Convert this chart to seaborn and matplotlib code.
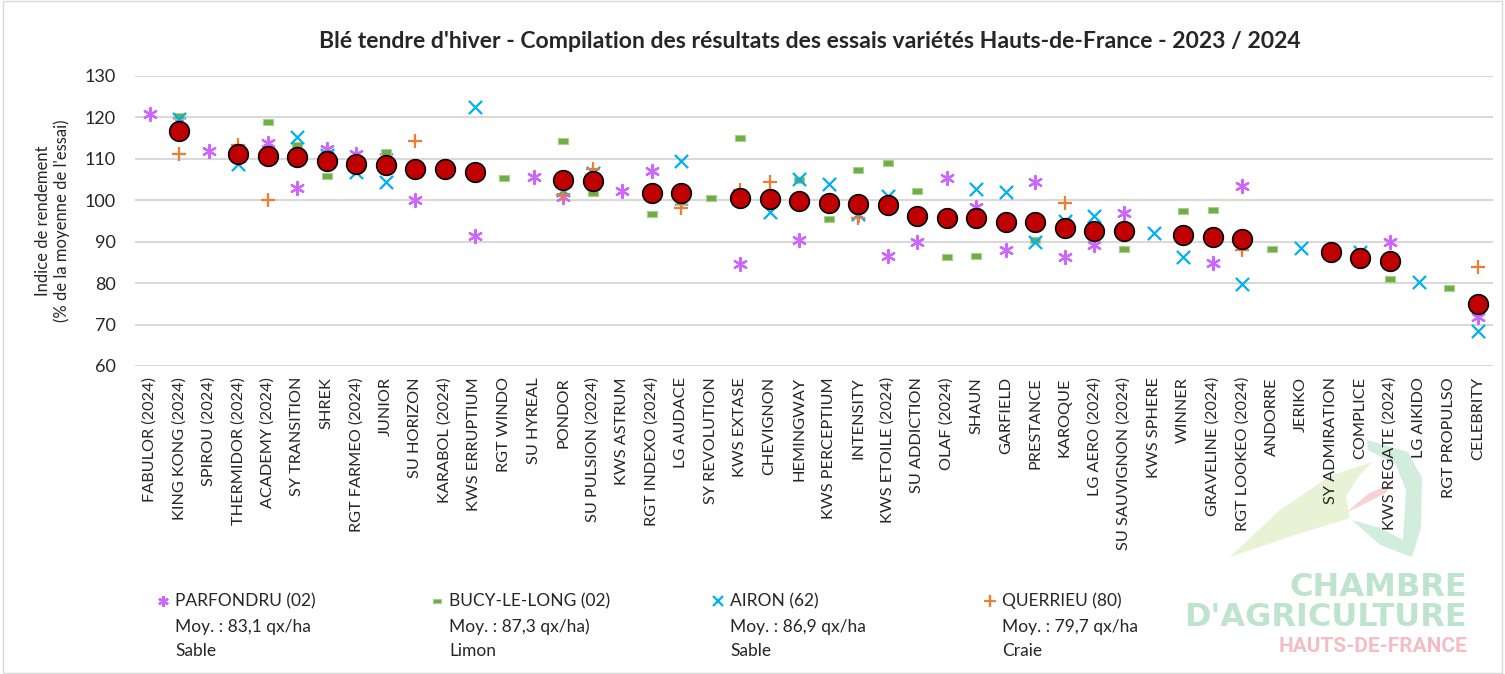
import numpy as np
import pandas as pd
import matplotlib
matplotlib.use("Agg")
import matplotlib.pyplot as plt
from matplotlib.lines import Line2D
from matplotlib.patches import Rectangle, Polygon
import seaborn as sns

varietes = ['FABULOR (2024)', 'KING KONG (2024)', 'SPIROU (2024)', 'THERMIDOR (2024)',
            'ACADEMY (2024)', 'SY TRANSITION', 'SHREK', 'RGT FARMEO (2024)', 'JUNIOR',
            'SU HORIZON', 'KARABOL (2024)', 'KWS ERRUPTIUM', 'RGT WINDO', 'SU HYREAL',
            'PONDOR', 'SU PULSION (2024)', 'KWS ASTRUM', 'RGT INDEXO (2024)', 'LG AUDACE',
            'SY REVOLUTION', 'KWS EXTASE', 'CHEVIGNON', 'HEMINGWAY', 'KWS PERCEPTIUM',
            'INTENSITY', 'KWS ETOILE (2024)', 'SU ADDICTION', 'OLAF (2024)', 'SHAUN',
            'GARFIELD', 'PRESTANCE', 'KAROQUE', 'LG AERO (2024)', 'SU SAUVIGNON (2024)',
            'KWS SPHERE', 'WINNER', 'GRAVELINE (2024)', 'RGT LOOKEO (2024)', 'ANDORRE',
            'JERIKO', 'SY ADMIRATION', 'COMPLICE', 'KWS REGATE (2024)', 'LG AIKIDO',
            'RGT PROPULSO', 'CELEBRITY']

nan = np.nan
parfondru = [120.8, 119.1, 112.0, nan, 113.8, 103.0, 112.4, 111.2, 110.5,
             100.0, 108.3, 91.5, nan, 105.7, 100.7, 103.5, 102.2, 107.1, 99.9,
             nan, 84.6, 99.5, 90.3, 99.0, 96.4, 86.6, 90.0, 105.5, 98.5,
             88.1, 104.3, 86.2, 89.2, 96.9, nan, nan, 84.8, 103.4, nan,
             nan, nan, nan, 89.9, nan, nan, 71.9]
bucy = [nan, 120.3, nan, nan, 119.0, 113.3, 105.8, nan, 111.6,
        nan, nan, nan, 105.5, nan, 114.2, 101.8, nan, 96.6, 99.7,
        100.6, 115.0, nan, 104.9, 95.4, 107.2, 108.9, 102.2, 86.2, 86.5,
        nan, 90.4, nan, nan, 88.2, nan, 97.5, 97.7, nan, 88.2,
        nan, nan, nan, 80.9, nan, 78.9, nan]
airon = [nan, 119.6, nan, 108.8, nan, 115.2, 111.0, 106.8, 104.5,
         nan, nan, 122.5, nan, nan, 102.5, 106.5, nan, nan, 109.5,
         nan, nan, 97.1, 105.1, 103.9, 96.7, 101.0, nan, nan, 102.8,
         101.9, 89.9, 95.0, 96.2, nan, 92.2, 86.2, nan, 79.7, nan,
         88.4, nan, 87.6, nan, 80.3, nan, 68.5]
querrieu = [nan, 111.2, nan, 113.3, 100.0, nan, nan, nan, nan,
            114.3, nan, nan, nan, nan, 101.3, 107.5, nan, nan, 98.1,
            nan, 102.6, 104.3, nan, nan, 95.7, nan, nan, nan, nan,
            nan, nan, 99.4, nan, nan, nan, nan, nan, 88.0, nan,
            nan, nan, 85.2, nan, nan, nan, 84.0]
moyenne = [nan, 116.7, nan, 111.1, 110.6, 110.4, 109.4, 108.8, 108.5,
           107.5, 107.5, 106.8, nan, nan, 104.9, 104.7, nan, 101.8, 101.8,
           nan, 100.6, 100.3, 99.9, 99.4, 99.0, 98.8, 96.2, 95.8, 95.8,
           94.8, 94.8, 93.2, 92.5, 92.5, nan, 91.7, 91.2, 90.6, nan,
           nan, 87.6, 86.1, 85.3, nan, nan, 74.9]

essais = ['PARFONDRU (02)', 'BUCY-LE-LONG (02)', 'AIRON (62)', 'QUERRIEU (80)']
moy_essais = ['Moy. : 83,1 qx/ha', 'Moy. : 87,3 qx/ha)', 'Moy. : 86,9 qx/ha', 'Moy. : 79,7 qx/ha']
sols = ['Sable', 'Limon', 'Sable', 'Craie']

pos = np.arange(len(varietes))
df = pd.DataFrame({'pos': pos, 'variete': varietes, 'PARFONDRU': parfondru,
                   'BUCY': bucy, 'AIRON': airon, 'QUERRIEU': querrieu,
                   'MOYENNE': moyenne})

sns.set_style("white")
plt.rcParams['font.family'] = ['Lato', 'DejaVu Sans']

W, H = 1505, 674


def px(x, y):
    # pixel position -> figure fraction
    return (x / W, 1 - y / H)


star = (6, 2, 0)
dash = [(-1, -0.55), (1, -0.55), (1, 0.55), (-1, 0.55), (-1, -0.55)]
styles = {
    'PARFONDRU': dict(marker=star, color='#CC66FF', s=90, linewidth=1.6),
    'BUCY': dict(marker=dash, color='#70AD47', edgecolor='#A9D18E', s=50, linewidth=0.8),
    'AIRON': dict(marker='x', color='#00B0F0', s=90, linewidth=1.6),
    'QUERRIEU': dict(marker='+', color='#ED7D31', s=100, linewidth=1.6),
}

fig = plt.figure(figsize=(W / 100, H / 100), dpi=100)

# logo watermark (behind everything)
logo = [
    ([(1230, 557), (1280, 510), (1330, 476), (1372, 462), (1360, 475), (1346, 496),
      (1350, 518), (1295, 535)], '#E8F2D5'),
    ([(1367, 440), (1408, 452), (1422, 478), (1421, 528), (1412, 557), (1380, 545),
      (1352, 520), (1380, 528), (1403, 540), (1406, 490), (1396, 465), (1368, 450)], '#D3EDDD'),
    ([(1347, 512), (1368, 494), (1392, 483), (1386, 493), (1360, 506)], '#F8D2D2'),
]
for pts, c in logo:
    fig.add_artist(Polygon([px(x, y) for x, y in pts], closed=True, transform=fig.transFigure,
                           facecolor=c, edgecolor='none', zorder=-2))

ax = fig.add_axes([135 / W, 1 - 366 / H, (1493 - 135) / W, 290 / H])
ax.patch.set_alpha(0)

for col, st in styles.items():
    sns.scatterplot(data=df, x='pos', y=col, ax=ax, zorder=3, **st)
sns.scatterplot(data=df, x='pos', y='MOYENNE', ax=ax, marker='o', color='#C00000',
                edgecolor='black', linewidth=1.2, s=200, zorder=4)

ax.set_xlim(-0.5, len(varietes) - 0.5)
ax.set_ylim(60, 130)
ax.set_yticks(np.arange(60, 131, 10))
ax.set_xticks(pos, varietes, rotation=90)
ax.tick_params(axis='x', length=0, pad=8, labelsize=11.7)
ax.tick_params(axis='y', length=0, pad=14, labelsize=13)
ax.grid(axis='y', color='#D9D9D9', linewidth=1.5)
ax.set_axisbelow(True)
for sp in ax.spines.values():
    sp.set_visible(False)
ax.set_xlabel('')
ax.set_ylabel("Indice de rendement\n(% de la moyenne de l'essai)", fontsize=12, labelpad=10)

fig.suptitle("Blé tendre d'hiver - Compilation des résultats des essais variétés Hauts-de-France - 2023 / 2024",
             x=810 / W, y=1 - 41 / H, va='center', fontsize=16.6, fontweight='bold')

fig.text(*px(1467, 588), 'CHAMBRE', ha='right', va='center', fontsize=23,
         fontweight='bold', color='#BEE4CD', family='DejaVu Sans')
fig.text(*px(1467, 617), "D'AGRICULTURE", ha='right', va='center', fontsize=23,
         fontweight='bold', color='#BEE4CD', family='DejaVu Sans')
fig.text(*px(1467, 646), 'HAUTS-DE-FRANCE', ha='right', va='center', fontsize=15,
         fontweight='bold', color='#F3BEC3', family='Roboto')

# legend
leg_marker_x = [163, 437, 718, 990]
leg_keys = ['PARFONDRU', 'BUCY', 'AIRON', 'QUERRIEU']
for mx, key, nom, moy, sol in zip(leg_marker_x, leg_keys, essais, moy_essais, sols):
    st = styles[key]
    fig.add_artist(Line2D([mx / W], [1 - 601 / H], transform=fig.transFigure,
                          marker=st['marker'], color=st['color'],
                          markerfacecolor=st['color'],
                          markeredgecolor=st.get('edgecolor', st['color']),
                          markersize=np.sqrt(st['s']) * 0.8, markeredgewidth=st['linewidth'],
                          linestyle='none'))
    tx = (mx + 12) / W
    fig.text(tx, 1 - 601 / H, nom, va='center', fontsize=12.5)
    fig.text(tx, 1 - 627 / H, moy, va='center', fontsize=12.5)
    fig.text(tx, 1 - 651 / H, sol, va='center', fontsize=12.5)

fig.add_artist(Rectangle((0.002, 0.002), 0.996, 0.996, transform=fig.transFigure,
                         fill=False, edgecolor='#D9D9D9', linewidth=1))

fig.savefig('out.png', dpi=100)
